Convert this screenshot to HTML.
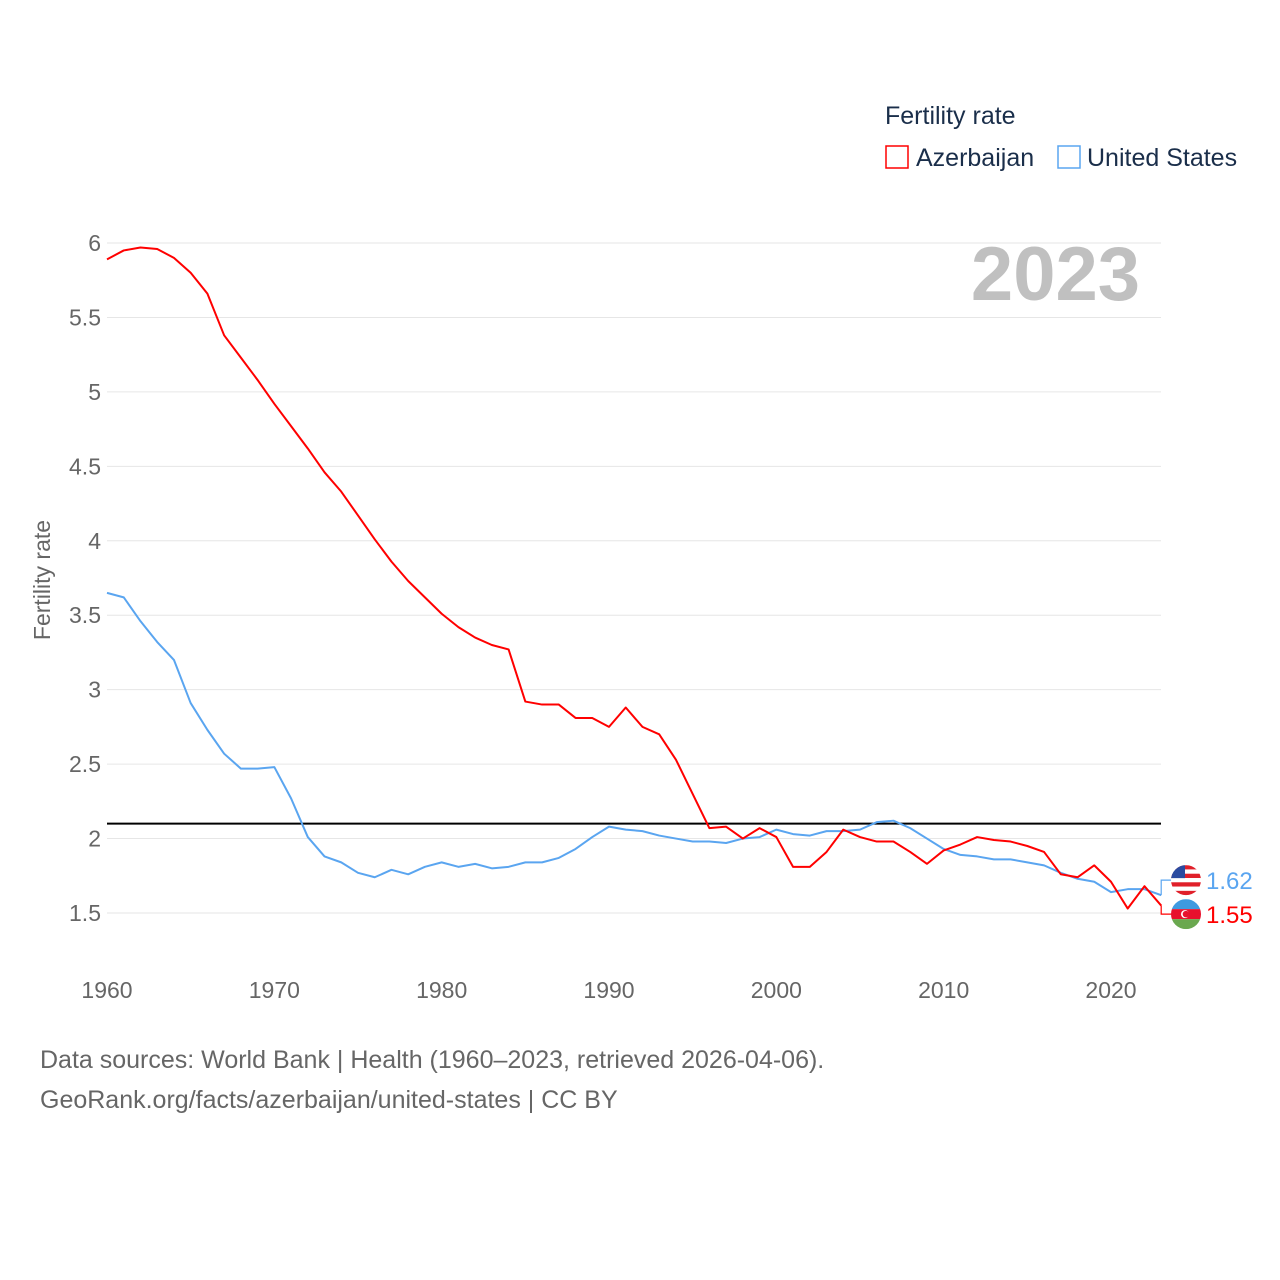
<!DOCTYPE html>
<html><head><meta charset="utf-8">
<style>
body{margin:0;background:#fff;font-family:"Liberation Sans",sans-serif;}
svg{display:block}
</style></head>
<body>
<svg id="chart" width="1280" height="1280" viewBox="0 0 1280 1280">
<defs>
<clipPath id="clipUS"><circle id="cUS" cx="1186" cy="880" r="15"/></clipPath>
<clipPath id="clipAZ"><circle id="cAZ" cx="1186" cy="914" r="15"/></clipPath>
</defs>
<text x="885" y="124" font-size="25" fill="#1a2e4a">Fertility rate</text>
<rect x="886" y="146" width="22" height="22" fill="none" stroke="#ff0000" stroke-width="1.5"/>
<text x="916" y="166" font-size="25" fill="#1a2e4a">Azerbaijan</text>
<rect x="1058" y="146" width="22" height="22" fill="none" stroke="#5aa5f0" stroke-width="1.5"/>
<text x="1087" y="166" font-size="25" fill="#1a2e4a">United States</text>
<g id="grid"></g>
<text x="1140" y="300" font-size="76" font-weight="bold" fill="#c0c0c0" text-anchor="end">2023</text>
<text transform="translate(50,580) rotate(-90)" font-size="23" fill="#666" text-anchor="middle">Fertility rate</text>
<g id="series"></g>
<text x="40" y="1068" font-size="25" fill="#666">Data sources: World Bank | Health (1960–2023, retrieved 2026-04-06).</text>
<text x="40" y="1108" font-size="25" fill="#666">GeoRank.org/facts/azerbaijan/united-states | CC BY</text>
</svg>
<script>
const years=[];for(let y=1960;y<=2023;y++)years.push(y);
const azerbaijan=[5.89,5.95,5.97,5.96,5.90,5.80,5.66,5.38,5.23,5.08,4.92,4.77,4.62,4.46,4.33,4.17,4.01,3.86,3.73,3.62,3.51,3.42,3.35,3.30,3.27,2.92,2.90,2.90,2.81,2.81,2.75,2.88,2.75,2.70,2.53,2.30,2.07,2.08,2.00,2.07,2.01,1.81,1.81,1.91,2.06,2.01,1.98,1.98,1.91,1.83,1.92,1.96,2.01,1.99,1.98,1.95,1.91,1.76,1.74,1.82,1.71,1.53,1.68,1.55];
const unitedStates=[3.65,3.62,3.46,3.32,3.20,2.91,2.73,2.57,2.47,2.47,2.48,2.27,2.01,1.88,1.84,1.77,1.74,1.79,1.76,1.81,1.84,1.81,1.83,1.80,1.81,1.84,1.84,1.87,1.93,2.01,2.08,2.06,2.05,2.02,2.00,1.98,1.98,1.97,2.00,2.01,2.06,2.03,2.02,2.05,2.05,2.06,2.11,2.12,2.07,2.00,1.93,1.89,1.88,1.86,1.86,1.84,1.82,1.77,1.73,1.71,1.64,1.66,1.66,1.62];
const yTicks=[1.5,2,2.5,3,3.5,4,4.5,5,5.5,6];
const xTicks=[1960,1970,1980,1990,2000,2010,2020];
const replacement=2.1;
const NS="http://www.w3.org/2000/svg";
const X=y=>107+(y-1960)*(1004/60);
const Y=v=>243+(6-v)*(670/4.5);
function mk(tag,attrs,parent,text){const e=document.createElementNS(NS,tag);for(const k in attrs)e.setAttribute(k,attrs[k]);if(text!==undefined)e.textContent=text;parent.appendChild(e);return e;}
const grid=document.getElementById('grid'),ser=document.getElementById('series');
yTicks.forEach(t=>{
 const l=mk('line',{x1:107,x2:1161,y1:Y(t),y2:Y(t),stroke:'#e6e6e6','stroke-width':1},grid);
 
 
 const tx=mk('text',{x:101,y:Y(t)+8,'font-size':23,fill:'#666','text-anchor':'end'},grid,String(t));
 
 
});
xTicks.forEach(t=>{
 const tx=mk('text',{x:X(t),y:998,'font-size':23,fill:'#666','text-anchor':'middle'},grid,String(t));
 
 
});
const rl=mk('line',{x1:107,x2:1161,y1:Y(replacement),y2:Y(replacement),stroke:'#000','stroke-width':2},grid);


function line(vals,color,name){
 const p=mk('polyline',{points:vals.map((v,i)=>X(years[i])+','+Y(v)).join(' '),fill:'none',stroke:color,'stroke-width':2,'stroke-linejoin':'round'},ser);
 
 
}
line(unitedStates,'#5aa5f0','us-line');
line(azerbaijan,'#ff0000','azerbaijan-line');
const usV=unitedStates[unitedStates.length-1],azV=azerbaijan[azerbaijan.length-1];
const usY=Math.min(Y(usV),Y(azV))-15, azY=usY+34;
document.getElementById('cUS').setAttribute('cy',usY);
document.getElementById('cAZ').setAttribute('cy',azY);
function endLabel(v,ly,color,name,clip,flag){
 const x0=X(2023);
 const c=mk('polyline',{points:`${x0},${Y(v)} ${x0},${ly} 1172,${ly}`,fill:'none',stroke:color,'stroke-width':1.2},ser);
 
 
 const g=mk('g',{'clip-path':'url(#'+clip+')'},ser);
 
 
 flag(g,1186,ly);
 const t=mk('text',{x:1206,y:ly+9,'font-size':24,fill:color},ser,v.toFixed(2));
 
 
}
endLabel(usV,usY,'#5aa5f0','us','clipUS',(g,cx,cy)=>{
 for(let i=0;i<7;i++)mk('rect',{x:cx-15,y:cy-15+i*30/7,width:30,height:30/7+0.3,fill:i%2?'#fff':'#e0202a'},g);
 mk('rect',{x:cx-15,y:cy-15,width:14,height:13,fill:'#2a4ba0'},g);
});
endLabel(azV,azY,'#ff0000','azerbaijan','clipAZ',(g,cx,cy)=>{
 mk('rect',{x:cx-15,y:cy-15,width:30,height:10,fill:'#3f9ae0'},g);
 mk('rect',{x:cx-15,y:cy-5,width:30,height:10,fill:'#e8112d'},g);
 mk('rect',{x:cx-15,y:cy+5,width:30,height:10,fill:'#6aa84f'},g);
 mk('circle',{cx:cx-1,cy:cy,r:4,fill:'#fff'},g);
 mk('circle',{cx:cx,cy:cy,r:3.3,fill:'#e8112d'},g);
});
</script>
</body></html>
